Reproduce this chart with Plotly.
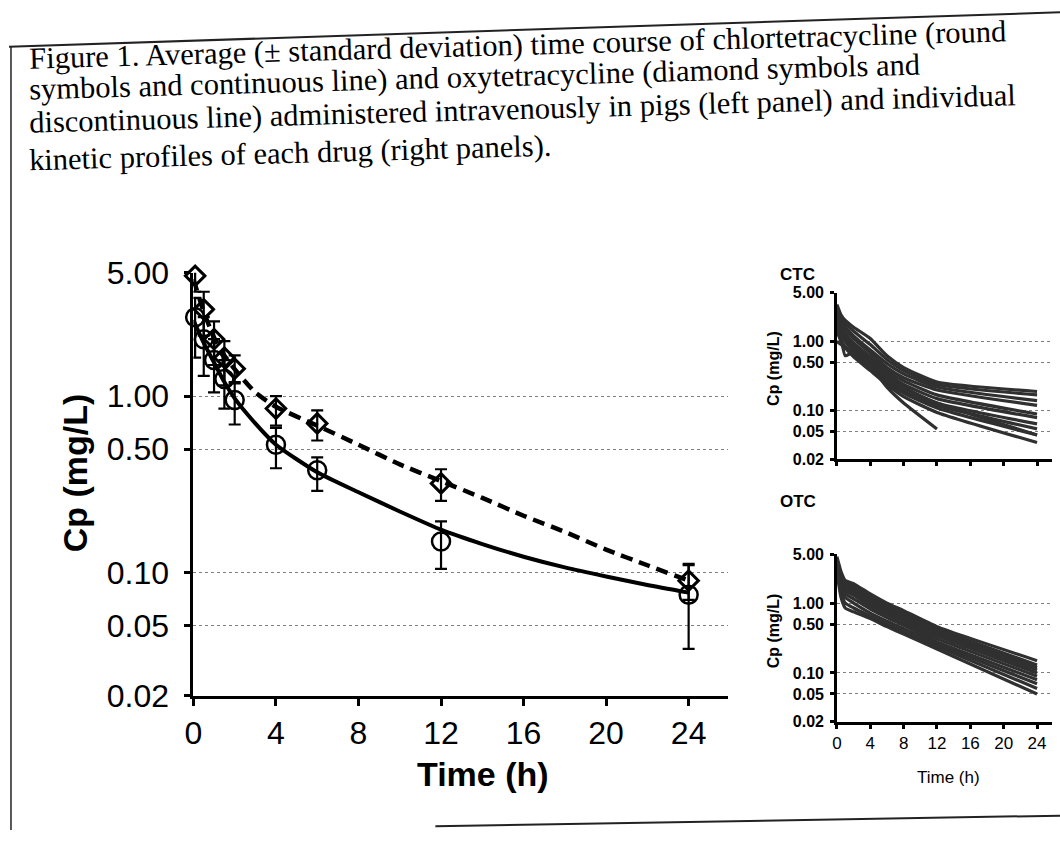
import math
import plotly.graph_objects as go

W, H = 1060, 848

# ---------------- data ----------------
# Left panel: mean (± SD) concentrations
t_obs = [0.083, 0.5, 1, 1.5, 2, 4, 6, 12, 24]
ctc_mean = [2.8, 2.1, 1.6, 1.25, 0.95, 0.53, 0.38, 0.15, 0.075]
ctc_sd_up = [0.8, 0.7, 0.5, 0.35, 0.25, 0.13, 0.07, 0.045, 0.037]
ctc_sd_dn = [1.15, 0.8, 0.55, 0.4, 0.26, 0.14, 0.09, 0.045, 0.038]
otc_mean = [4.8, 3.1, 2.1, 1.65, 1.43, 0.85, 0.7, 0.32, 0.09]
otc_sd_up = [0.9, 0.8, 0.55, 0.4, 0.27, 0.15, 0.13, 0.065, 0.02]
otc_sd_dn = [0.9, 0.9, 0.6, 0.5, 0.25, 0.17, 0.14, 0.065, 0.02]

# fitted curves
t_fit = [0, 0.5, 1, 1.5, 2, 3, 4, 6, 8, 10, 12, 14, 16, 18, 20, 22, 24]
ctc_fit = [2.7, 2.0, 1.55, 1.2, 0.97, 0.7, 0.53, 0.37, 0.285, 0.222, 0.175, 0.145, 0.123, 0.107, 0.095, 0.085, 0.077]
otc_fit = [4.6, 3.0, 2.15, 1.7, 1.42, 1.05, 0.87, 0.68, 0.53, 0.41, 0.33, 0.265, 0.21, 0.17, 0.135, 0.11, 0.09]

# Right panels: individual profiles
t_ind = [0, 0.5, 1, 2, 4, 6, 8, 12, 24]
ctc_individual = [
    [3.4, 2.4, 2.0, 1.6, 1.1, 0.62, 0.42, 0.26, 0.19],
    [3.0, 2.2, 1.8, 1.4, 0.9, 0.55, 0.38, 0.24, 0.17],
    [2.8, 2.0, 1.6, 1.2, 0.75, 0.48, 0.34, 0.22, 0.14],
    [2.5, 1.8, 1.5, 1.1, 0.68, 0.42, 0.30, 0.20, 0.12],
    [2.2, 1.6, 1.3, 0.95, 0.6, 0.38, 0.27, 0.17, 0.09],
    [2.0, 1.5, 1.2, 0.85, 0.55, 0.35, 0.24, 0.15, 0.08],
    [1.8, 1.3, 1.1, 0.8, 0.5, 0.32, 0.22, 0.13, 0.065],
    [1.6, 1.2, 1.0, 0.72, 0.45, 0.28, 0.19, 0.12, 0.055],
    [1.4, 1.0, 0.85, 0.65, 0.42, 0.26, 0.18, 0.11, 0.045],
    [2.2, 1.1, 0.62, 0.7, 0.47, 0.30, 0.21, 0.13, 0.045],
    [1.0, 0.9, 0.8, 0.6, 0.38, 0.24, 0.16, 0.095, 0.035],
    [1.9, 1.5, 1.25, 0.9, 0.45, 0.22, 0.13, 0.055, None],
]
otc_individual = [
    [4.6, 2.8, 2.1, 1.9, 1.35, 1.0, 0.78, 0.46, 0.15],
    [4.3, 2.6, 2.0, 1.75, 1.25, 0.93, 0.72, 0.43, 0.13],
    [4.0, 2.4, 1.9, 1.6, 1.15, 0.86, 0.67, 0.40, 0.12],
    [3.8, 2.2, 1.75, 1.5, 1.05, 0.8, 0.62, 0.37, 0.11],
    [3.6, 2.0, 1.6, 1.4, 0.98, 0.74, 0.57, 0.34, 0.10],
    [3.4, 1.9, 1.5, 1.3, 0.9, 0.68, 0.52, 0.31, 0.09],
    [3.2, 1.7, 1.35, 1.15, 0.82, 0.62, 0.48, 0.28, 0.08],
    [3.0, 1.6, 1.2, 1.0, 0.72, 0.55, 0.43, 0.26, 0.07],
    [2.9, 1.4, 1.0, 0.85, 0.65, 0.5, 0.39, 0.24, 0.06],
    [2.8, 1.2, 0.85, 0.75, 0.6, 0.46, 0.36, 0.22, 0.05],
]

y_ticks = [0.02, 0.05, 0.1, 0.5, 1, 5]
y_ticktext = ["0.02", "0.05", "0.10", "0.50", "1.00", "5.00"]
x_ticks = [0, 4, 8, 12, 16, 20, 24]
x_ticktext = ["0", "4", "8", "12", "16", "20", "24"]

caption = [
    "Figure 1. Average (\u00b1 standard deviation) time course of chlortetracycline (round",
    "symbols and continuous line) and oxytetracycline (diamond symbols and",
    "discontinuous line) administered intravenously in pigs (left panel) and individual",
    "kinetic profiles of each drug (right panels).",
]

# ---------------- helpers ----------------
def fx(p):
    return p / W

def fy(p):
    return 1 - p / H

SANS = "Liberation Sans, Arial, sans-serif"
SERIF = "Liberation Serif, Times New Roman, serif"

def yax(dom, anchor, fsize, lw, tl, standoff, bold=False):
    tt = ["<b>%s</b>" % t for t in y_ticktext] if bold else y_ticktext
    return dict(type="log", range=[math.log10(0.02), math.log10(5)], domain=dom, anchor=anchor,
                tickvals=y_ticks, ticktext=tt, showline=True, linewidth=lw,
                linecolor="black", ticks="outside", ticklen=tl, tickwidth=lw, tickcolor="black",
                ticklabelstandoff=standoff,
                showgrid=True, gridcolor="#808080", griddash="dot", gridwidth=1, zeroline=False,
                tickfont=dict(family=SANS, size=fsize, color="black"), fixedrange=True)

def xax(dom, anchor, rmax, fsize, lw, tl, show=True):
    return dict(range=[0, rmax], domain=dom, anchor=anchor, tickvals=x_ticks, ticktext=x_ticktext,
                showline=True, linewidth=lw, linecolor="black", ticks="outside", ticklen=tl,
                tickwidth=lw, tickcolor="black", showgrid=False, zeroline=False, showticklabels=show,
                tickfont=dict(family=SANS, size=fsize, color="black"), fixedrange=True)

fig = go.Figure()

# ---- left panel ----
fig.add_trace(go.Scatter(x=t_fit, y=ctc_fit, mode="lines", line=dict(color="black", width=4, shape="spline", smoothing=0.6),
                         xaxis="x", yaxis="y", cliponaxis=False, hoverinfo="skip"))
fig.add_trace(go.Scatter(x=t_fit, y=otc_fit, mode="lines",
                         line=dict(color="black", width=4.5, dash="12px,7px", shape="spline", smoothing=0.6),
                         xaxis="x", yaxis="y", cliponaxis=False, hoverinfo="skip"))
fig.add_trace(go.Scatter(x=t_obs, y=otc_mean, mode="markers",
                         marker=dict(symbol="diamond-open", size=15, color="black", line=dict(width=3)),
                         error_y=dict(type="data", array=otc_sd_up, arrayminus=otc_sd_dn, color="black", thickness=2.2, width=6),
                         xaxis="x", yaxis="y", cliponaxis=False))
fig.add_trace(go.Scatter(x=t_obs, y=ctc_mean, mode="markers",
                         marker=dict(symbol="circle-open", size=18, color="black", line=dict(width=2.5)),
                         error_y=dict(type="data", array=ctc_sd_up, arrayminus=ctc_sd_dn, color="black", thickness=2.2, width=6),
                         xaxis="x", yaxis="y", cliponaxis=False))

# ---- right panels ----
for prof in ctc_individual:
    fig.add_trace(go.Scatter(x=t_ind, y=prof, mode="lines",
                             line=dict(color="#303030", width=3.2, shape="spline", smoothing=0.5),
                             xaxis="x2", yaxis="y2", hoverinfo="skip"))
for prof in otc_individual:
    fig.add_trace(go.Scatter(x=t_ind, y=prof, mode="lines",
                             line=dict(color="#303030", width=3.2, shape="spline", smoothing=0.5),
                             xaxis="x3", yaxis="y3", hoverinfo="skip"))

main_xdom = [fx(186), fx(725)]
main_ydom = [fy(708), fy(266)]
r_xdom = [fx(835), fx(1052)]
ctc_ydom = [fy(461), fy(287)]
otc_ydom = [fy(735), fy(560)]

fig.update_layout(
    width=W, height=H, margin=dict(l=0, r=0, t=0, b=0),
    paper_bgcolor="white", plot_bgcolor="rgba(0,0,0,0)", showlegend=False,
    xaxis=xax(main_xdom, "y", 25.9, 32, 3, 7),
    yaxis=yax(main_ydom, "x", 32, 3, 6, 9),
    xaxis2=xax(r_xdom, "y2", 25.8, 17, 2.5, 4, show=False),
    yaxis2=yax(ctc_ydom, "x2", 16, 2.5, 4, 3, bold=True),
    xaxis3=xax(r_xdom, "y3", 25.8, 17, 2.5, 4),
    yaxis3=yax(otc_ydom, "x3", 16, 2.5, 4, 3, bold=True),
)

annotations = []
cap_pos = [(18, 28), (18, 62), (18, 95), (18, 141)]
for txt, (cx, cy) in zip(caption, cap_pos):
    annotations.append(dict(text=txt, x=fx(cx), y=fy(cy), xref="paper", yref="paper", xanchor="left", yanchor="middle",
                            showarrow=False, textangle=-1.6, font=dict(family=SERIF, size=30.5, color="black")))

annotations += [
    dict(text="<b>Time (h)</b>", x=fx(478), y=fy(790), xref="paper", yref="paper", showarrow=False,
         xanchor="center", yanchor="middle", font=dict(family=SANS, size=34, color="black")),
    dict(text="<b>Cp (mg/L)</b>", x=fx(66), y=fy(475), xref="paper", yref="paper", showarrow=False,
         textangle=-90, xanchor="center", yanchor="middle", font=dict(family=SANS, size=34, color="black")),
    dict(text="<b>CTC</b>", x=fx(776), y=fy(268), xref="paper", yref="paper", showarrow=False,
         xanchor="left", yanchor="middle", font=dict(family=SANS, size=17, color="black")),
    dict(text="<b>OTC</b>", x=fx(776), y=fy(505), xref="paper", yref="paper", showarrow=False,
         xanchor="left", yanchor="middle", font=dict(family=SANS, size=17, color="black")),
    dict(text="<b>Cp (mg/L)</b>", x=fx(771), y=fy(366), xref="paper", yref="paper", showarrow=False,
         textangle=-90, xanchor="center", yanchor="middle", font=dict(family=SANS, size=16, color="black")),
    dict(text="<b>Cp (mg/L)</b>", x=fx(771), y=fy(640), xref="paper", yref="paper", showarrow=False,
         textangle=-90, xanchor="center", yanchor="middle", font=dict(family=SANS, size=16, color="black")),
    dict(text="Time (h)", x=fx(948), y=fy(793), xref="paper", yref="paper", showarrow=False,
         xanchor="center", yanchor="middle", font=dict(family=SANS, size=17, color="black")),
]
fig.update_layout(annotations=annotations)

shapes = [
    dict(type="line", xref="paper", yref="paper", x0=fx(0), y0=fy(30), x1=fx(1060), y1=fy(-6),
         line=dict(color="#222", width=2)),
    dict(type="line", xref="paper", yref="paper", x0=fx(2), y0=fy(30), x1=fx(2), y1=fy(848),
         line=dict(color="#222", width=1.5)),
    dict(type="line", xref="paper", yref="paper", x0=fx(430), y0=fy(844), x1=fx(1060), y1=fy(833),
         line=dict(color="#222", width=2)),
]
fig.update_layout(shapes=shapes)

fig.write_html("out.html")
